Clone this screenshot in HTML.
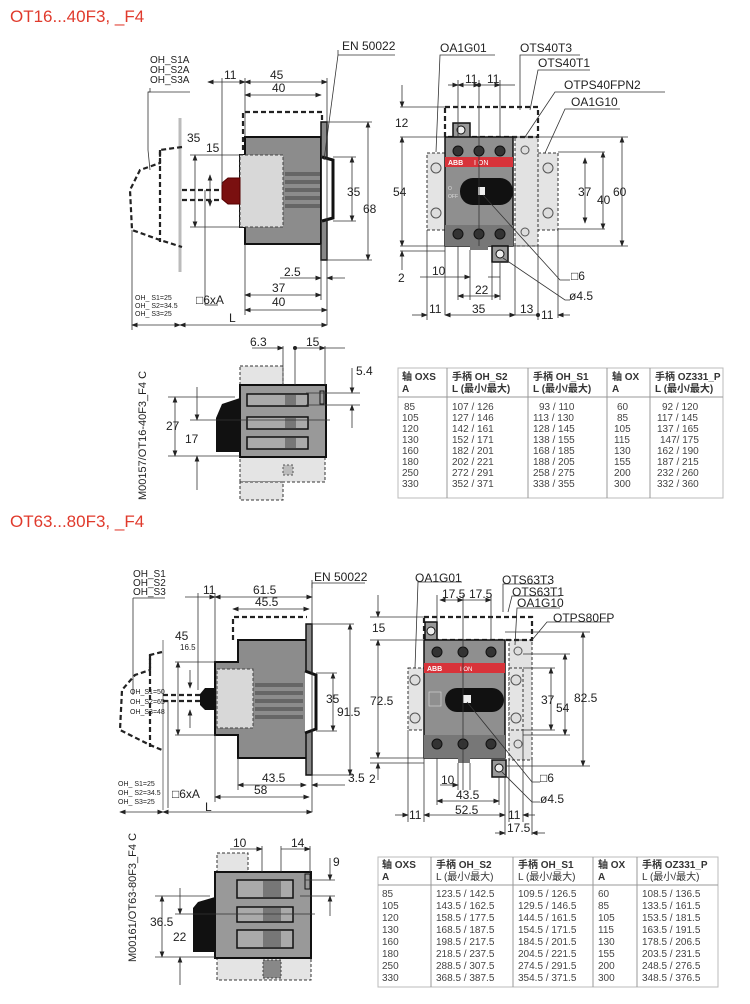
<!DOCTYPE html>
<html><head><meta charset="utf-8"><style>
html,body{margin:0;padding:0;background:#fff;}
svg{display:block;}
text{font-family:"Liberation Sans","Noto Sans CJK SC",sans-serif;fill:#222;}
.d{font-size:12px;}
.s{font-size:10px;}
.t{font-size:7px;}
.ln{stroke:#333;stroke-width:0.8;fill:none;}
.ds{stroke:#222;stroke-width:2.2;fill:none;stroke-dasharray:5,3;}
.dt{stroke:#333;stroke-width:1;fill:#e4e4e4;stroke-dasharray:3,2;}
</style></head><body>
<svg width="750" height="1004" viewBox="0 0 750 1004" xmlns="http://www.w3.org/2000/svg">
<defs>
<marker id="a" markerWidth="8" markerHeight="6" refX="7" refY="3" orient="auto-start-reverse"><path d="M0,0 L8,3 L0,6z" fill="#222"/></marker>
</defs>
<rect width="750" height="1004" fill="#fff"/>

<!-- ===== TOP SECTION ===== -->
<text x="10" y="22" style="font-size:17px;fill:#e03a2c">OT16...40F3, _F4</text>

<!-- side view 1 -->
<g>
<line x1="180" y1="118" x2="180" y2="272" stroke="#bbb" stroke-width="3"/>
<path d="M182,147 L160,150 L160,163 L140,170 L130,190 L132,230 L160,240 L182,247" class="ds" stroke-width="1.5"/>
<line x1="160" y1="150" x2="160" y2="242" class="ds" stroke-width="1.5"/>
<path d="M243,150 L243,112 L322,112 L322,120" class="ds"/>
<path d="M245,137 L321,137 L321,244 L245,244 L245,227 L240,227 L240,155 L245,155z" fill="#8c8c8c" stroke="#111" stroke-width="2"/>
<rect x="240" y="155" width="43" height="72" fill="#d8d8d8" stroke="#444" stroke-dasharray="3,2"/>
<g fill="#666"><rect x="285" y="172" width="35" height="4"/><rect x="285" y="180" width="35" height="4"/><rect x="285" y="188" width="35" height="4"/><rect x="285" y="196" width="35" height="4"/><rect x="285" y="204" width="35" height="4"/></g>
<rect x="321" y="122" width="6" height="138" fill="#888" stroke="#111" stroke-width="1.5"/>
<path d="M322,157 L333,160 L333,218 L322,221" fill="#fff" stroke="#111" stroke-width="3"/>
<path d="M222,183 L228,178 L240,178 L240,204 L228,204 L222,199z" fill="#7a1010" stroke="#500" />
<line x1="182" y1="190" x2="222" y2="190" class="ds" stroke-width="1.5"/>
<line x1="182" y1="200" x2="222" y2="200" class="ds" stroke-width="1.5"/>
<line x1="205" y1="190" x2="205" y2="305" class="ln"/><line x1="205" y1="305" x2="218" y2="305" class="ln"/>
<!-- dims -->
<line x1="208" y1="82" x2="245" y2="82" class="ln" marker-start="url(#a)" marker-end="url(#a)"/>
<line x1="245" y1="82" x2="327" y2="82" class="ln" marker-start="url(#a)" marker-end="url(#a)"/>
<line x1="245" y1="95" x2="321" y2="95" class="ln" marker-start="url(#a)" marker-end="url(#a)"/>
<line x1="222" y1="78" x2="222" y2="185" class="ln"/><line x1="245" y1="78" x2="245" y2="137" class="ln"/><line x1="327" y1="78" x2="327" y2="325" class="ln"/>
<line x1="195" y1="155" x2="195" y2="227" class="ln" marker-start="url(#a)" marker-end="url(#a)"/>
<line x1="210" y1="175" x2="210" y2="206" class="ln" marker-start="url(#a)" marker-end="url(#a)"/>
<line x1="190" y1="155" x2="240" y2="155" class="ln"/><line x1="190" y1="227" x2="240" y2="227" class="ln"/>
<line x1="352" y1="157" x2="352" y2="221" class="ln" marker-start="url(#a)" marker-end="url(#a)"/>
<line x1="368" y1="122" x2="368" y2="260" class="ln" marker-start="url(#a)" marker-end="url(#a)"/>
<line x1="327" y1="122" x2="372" y2="122" class="ln"/><line x1="327" y1="260" x2="372" y2="260" class="ln"/>
<line x1="333" y1="157" x2="356" y2="157" class="ln"/><line x1="333" y1="221" x2="356" y2="221" class="ln"/>
<line x1="280" y1="278" x2="321" y2="278" class="ln" marker-end="url(#a)"/><line x1="327" y1="278" x2="345" y2="278" class="ln" marker-start="url(#a)"/>
<line x1="245" y1="295" x2="321" y2="295" class="ln" marker-start="url(#a)" marker-end="url(#a)"/>
<line x1="245" y1="310" x2="327" y2="310" class="ln" marker-start="url(#a)" marker-end="url(#a)"/>
<line x1="245" y1="244" x2="245" y2="315" class="ln"/><line x1="321" y1="244" x2="321" y2="300" class="ln"/>
<line x1="132" y1="325" x2="180" y2="325" class="ln" marker-start="url(#a)" marker-end="url(#a)"/>
<line x1="180" y1="325" x2="327" y2="325" class="ln" marker-start="url(#a)" marker-end="url(#a)"/>
<line x1="132" y1="230" x2="132" y2="330" class="ln"/>
<path d="M150,88 L150,92 L148,92 L148,150 L150,170" class="ln"/>
<line x1="148" y1="92" x2="190" y2="92" class="ln"/>
<path d="M338,50 L338,55 L324,160" class="ln"/><line x1="338" y1="55" x2="395" y2="55" class="ln"/>
<text x="150" y="63" class="s">OH_S1A</text><text x="150" y="73" class="s">OH_S2A</text><text x="150" y="83" class="s">OH_S3A</text>
<text x="342" y="50" class="d">EN 50022</text>
<text x="224" y="79" class="d">11</text><text x="270" y="79" class="d">45</text><text x="272" y="92" class="d">40</text>
<text x="187" y="142" class="d">35</text><text x="206" y="152" class="d">15</text>
<text x="347" y="196" class="d">35</text><text x="363" y="213" class="d">68</text>
<text x="284" y="276" class="d">2.5</text><text x="272" y="292" class="d">37</text><text x="272" y="306" class="d">40</text>
<text x="196" y="304" class="d">□6xA</text>
<text x="135" y="300" class="t">OH_ S1=25</text><text x="135" y="308" class="t">OH_ S2=34.5</text><text x="135" y="316" class="t">OH_ S3=25</text>
<text x="229" y="322" class="d">L</text>
</g>

<!-- front view 1 -->
<g>
<rect x="427" y="153" width="18" height="77" class="dt"/>
<rect x="515" y="137" width="23" height="109" fill="#e2e2e2" stroke="#333" stroke-dasharray="3,2"/>
<rect x="538" y="153" width="20" height="77" class="dt"/>
<rect x="445" y="107" width="93" height="30" fill="none" stroke="#222" stroke-width="2.2" stroke-dasharray="5,3"/>
<rect x="453" y="123" width="17" height="15" fill="#999" stroke="#111" stroke-width="1.5"/><circle cx="461" cy="130" r="4" fill="#eee" stroke="#111"/>
<rect x="445" y="137" width="68" height="109" fill="#8f8f8f" stroke="#111" stroke-width="1.5"/>
<rect x="445" y="225" width="68" height="21" fill="#777"/>
<rect x="445" y="157" width="68" height="10" fill="#d8333a"/>
<text x="448" y="165" style="font-size:7px;fill:#fff;font-weight:bold">ABB</text><text x="474" y="165" style="font-size:7px;fill:#fff">I  ON</text>
<rect x="460" y="178" width="53" height="27" rx="13" fill="#111"/>
<rect x="478" y="187" width="7" height="8" fill="#eee"/>
<text x="448" y="190" style="font-size:5px;fill:#ddd">O</text><text x="448" y="198" style="font-size:5px;fill:#ddd">OFF</text>
<g fill="#333" stroke="#111"><circle cx="458" cy="151" r="5"/><circle cx="479" cy="151" r="5"/><circle cx="500" cy="151" r="5"/><circle cx="458" cy="234" r="5"/><circle cx="479" cy="234" r="5"/><circle cx="500" cy="234" r="5"/></g>
<rect x="492" y="246" width="16" height="16" fill="#999" stroke="#111" stroke-width="1.5"/><circle cx="500" cy="254" r="4" fill="#eee" stroke="#111"/>
<rect x="470" y="246" width="18" height="4" fill="#777"/>
<g fill="#ddd" stroke="#555"><circle cx="436" cy="168" r="5"/><circle cx="436" cy="213" r="5"/><circle cx="548" cy="168" r="5"/><circle cx="548" cy="213" r="5"/><circle cx="525" cy="150" r="4"/><circle cx="525" cy="232" r="4"/></g>
<line x1="479" y1="80" x2="479" y2="246" class="ln"/><line x1="458" y1="80" x2="458" y2="137" class="ln"/><line x1="500" y1="80" x2="500" y2="137" class="ln"/>
<line x1="448" y1="85" x2="458" y2="85" class="ln" marker-end="url(#a)"/><line x1="458" y1="85" x2="479" y2="85" class="ln" marker-start="url(#a)" marker-end="url(#a)"/><line x1="479" y1="85" x2="500" y2="85" class="ln" marker-end="url(#a)"/><line x1="500" y1="85" x2="515" y2="85" class="ln"/>
<line x1="400" y1="107" x2="445" y2="107" class="ln"/><line x1="400" y1="137" x2="445" y2="137" class="ln"/><line x1="400" y1="246" x2="445" y2="246" class="ln"/><line x1="400" y1="251" x2="445" y2="251" class="ln"/>
<line x1="402" y1="85" x2="402" y2="107" class="ln" marker-end="url(#a)"/><line x1="402" y1="137" x2="402" y2="246" class="ln" marker-start="url(#a)" marker-end="url(#a)"/><line x1="402" y1="251" x2="402" y2="270" class="ln" marker-start="url(#a)"/>
<line x1="513" y1="137" x2="628" y2="137" class="ln"/><line x1="513" y1="246" x2="628" y2="246" class="ln"/><line x1="558" y1="152" x2="605" y2="152" class="ln"/><line x1="558" y1="229" x2="605" y2="229" class="ln"/>
<line x1="585" y1="158" x2="585" y2="223" class="ln" marker-start="url(#a)" marker-end="url(#a)"/><line x1="603" y1="152" x2="603" y2="229" class="ln" marker-start="url(#a)" marker-end="url(#a)"/><line x1="622" y1="137" x2="622" y2="246" class="ln" marker-start="url(#a)" marker-end="url(#a)"/>
<line x1="427" y1="230" x2="427" y2="320" class="ln"/><line x1="445" y1="246" x2="445" y2="315" class="ln"/><line x1="538" y1="246" x2="538" y2="320" class="ln"/><line x1="558" y1="230" x2="558" y2="318" class="ln"/><line x1="515" y1="246" x2="515" y2="315" class="ln"/>
<line x1="470" y1="250" x2="470" y2="300" class="ln"/><line x1="492" y1="262" x2="492" y2="300" class="ln"/>
<line x1="420" y1="277" x2="470" y2="277" class="ln" marker-end="url(#a)"/><line x1="488" y1="277" x2="500" y2="277" class="ln"/>
<line x1="458" y1="296" x2="500" y2="296" class="ln" marker-start="url(#a)" marker-end="url(#a)"/><line x1="458" y1="246" x2="458" y2="300" class="ln"/><line x1="500" y1="262" x2="500" y2="300" class="ln"/>
<line x1="412" y1="315" x2="427" y2="315" class="ln" marker-end="url(#a)"/><line x1="445" y1="315" x2="515" y2="315" class="ln" marker-start="url(#a)" marker-end="url(#a)"/><line x1="515" y1="315" x2="538" y2="315" class="ln"/><line x1="558" y1="315" x2="570" y2="315" class="ln" marker-start="url(#a)"/>
<circle cx="538" cy="315" r="2" fill="#222"/><circle cx="479" cy="85" r="2" fill="#222"/>
<path d="M436,152 L440,55 L495,55" class="ln"/><path d="M520,110 L520,55 L580,55" class="ln"/><path d="M530,110 L538,70 L590,70" class="ln"/><path d="M525,137 L555,92 L665,92" class="ln"/><path d="M545,153 L565,109 L620,109" class="ln"/>
<path d="M483,195 L560,280 L570,280" class="ln"/><path d="M503,258 L565,300 L570,300" class="ln"/>
<text x="440" y="52" class="d">OA1G01</text><text x="520" y="52" class="d">OTS40T3</text><text x="538" y="67" class="d">OTS40T1</text><text x="564" y="89" class="d">OTPS40FPN2</text><text x="571" y="106" class="d">OA1G10</text>
<text x="465" y="83" class="d">11</text><text x="487" y="83" class="d">11</text>
<text x="395" y="127" class="d">12</text><text x="393" y="196" class="d">54</text><text x="398" y="282" class="d">2</text>
<text x="432" y="275" class="d">10</text><text x="475" y="294" class="d">22</text>
<text x="429" y="313" class="d">11</text><text x="472" y="313" class="d">35</text><text x="520" y="313" class="d">13</text><text x="541" y="319" class="d">11</text>
<text x="578" y="196" class="d">37</text><text x="597" y="204" class="d">40</text><text x="613" y="196" class="d">60</text>
<text x="571" y="280" class="d">□6</text><text x="569" y="300" class="d">ø4.5</text>
</g>

<!-- small view 1 -->
<g>
<rect x="240" y="366" width="43" height="19" class="dt"/>
<rect x="240" y="457" width="85" height="25" class="dt"/><rect x="240" y="482" width="43" height="18" class="dt"/>
<rect x="283" y="465" width="10" height="10" fill="#bbb" stroke="#555" stroke-dasharray="2,2"/>
<path d="M240,398 L222,404 L216,418 L216,452 L240,452z" fill="#111"/>
<rect x="240" y="385" width="86" height="72" fill="#999" stroke="#111" stroke-width="2"/>
<g fill="#aaa" stroke="#111" stroke-width="1.5"><rect x="247" y="394" width="61" height="12"/><rect x="247" y="417" width="61" height="12"/><rect x="247" y="437" width="61" height="12"/></g>
<g fill="#777"><rect x="285" y="395" width="11" height="10"/><rect x="285" y="418" width="11" height="10"/><rect x="285" y="438" width="11" height="10"/></g>
<rect x="320" y="391" width="4" height="13" fill="none" stroke="#111"/>
<line x1="283" y1="346" x2="283" y2="385" class="ln"/><line x1="295" y1="346" x2="295" y2="385" class="ln"/><line x1="325" y1="346" x2="325" y2="385" class="ln"/>
<line x1="252" y1="348" x2="283" y2="348" class="ln" marker-end="url(#a)"/><line x1="295" y1="348" x2="325" y2="348" class="ln" marker-end="url(#a)"/><line x1="325" y1="348" x2="345" y2="348" class="ln"/><circle cx="295" cy="348" r="2" fill="#222"/>
<line x1="306" y1="393" x2="360" y2="393" class="ln"/><line x1="306" y1="405" x2="360" y2="405" class="ln"/>
<line x1="352" y1="368" x2="352" y2="393" class="ln" marker-end="url(#a)"/><line x1="352" y1="405" x2="352" y2="428" class="ln" marker-start="url(#a)"/>
<line x1="168" y1="397" x2="235" y2="397" class="ln"/><line x1="168" y1="456" x2="240" y2="456" class="ln"/><line x1="190" y1="420" x2="330" y2="420" class="ln"/>
<line x1="175" y1="397" x2="175" y2="456" class="ln" marker-start="url(#a)" marker-end="url(#a)"/>
<line x1="197" y1="387" x2="197" y2="420" class="ln" marker-end="url(#a)"/><line x1="197" y1="456" x2="197" y2="490" class="ln" marker-start="url(#a)"/>
<text x="306" y="346" class="d">15</text><text x="250" y="346" class="d">6.3</text><text x="356" y="375" class="d">5.4</text>
<text x="166" y="430" class="d">27</text><text x="185" y="443" class="d">17</text>
<text transform="translate(146,500) rotate(-90)" class="s" style="font-size:11px">M00157/OT16-40F3_F4  C</text>
</g>

<!-- table 1 -->
<g>
<rect x="398" y="368" width="325" height="130" fill="#fff" stroke="#bbb"/>
<line x1="398" y1="397" x2="723" y2="397" stroke="#999"/>
<g stroke="#999"><line x1="447" y1="368" x2="447" y2="498"/><line x1="528" y1="368" x2="528" y2="498"/><line x1="607" y1="368" x2="607" y2="498"/><line x1="650" y1="368" x2="650" y2="498"/></g>
<g style="font-size:10px;font-weight:bold">
<text x="402" y="380" style="font-weight:bold;fill:#333">轴 OXS</text><text x="402" y="392" style="font-weight:bold;fill:#333">A</text>
<text x="452" y="380" style="font-weight:bold;fill:#333">手柄 OH_S2</text><text x="452" y="392" style="fill:#333">L (最小/最大)</text>
<text x="533" y="380" style="font-weight:bold;fill:#333">手柄 OH_S1</text><text x="533" y="392" style="fill:#333">L (最小/最大)</text>
<text x="612" y="380" style="font-weight:bold;fill:#333">轴 OX</text><text x="612" y="392" style="font-weight:bold;fill:#333">A</text>
<text x="655" y="380" style="font-weight:bold;fill:#333">手柄 OZ331_P</text><text x="655" y="392" style="fill:#333">L (最小/最大)</text>
</g>
<g style="font-size:10px">
<text x="404" y="410" style="fill:#444;font-size:10px">  85</text><text x="402" y="421" style="fill:#444;font-size:10px">105</text><text x="402" y="432" style="fill:#444;font-size:10px">120</text><text x="402" y="443" style="fill:#444;font-size:10px">130</text><text x="402" y="454" style="fill:#444;font-size:10px">160</text><text x="402" y="465" style="fill:#444;font-size:10px">180</text><text x="402" y="476" style="fill:#444;font-size:10px">250</text><text x="402" y="487" style="fill:#444;font-size:10px">330</text>
<text x="452" y="410" style="fill:#444;font-size:10px">107 / 126</text><text x="452" y="421" style="fill:#444;font-size:10px">127 / 146</text><text x="452" y="432" style="fill:#444;font-size:10px">142 / 161</text><text x="452" y="443" style="fill:#444;font-size:10px">152 / 171</text><text x="452" y="454" style="fill:#444;font-size:10px">182 / 201</text><text x="452" y="465" style="fill:#444;font-size:10px">202 / 221</text><text x="452" y="476" style="fill:#444;font-size:10px">272 / 291</text><text x="452" y="487" style="fill:#444;font-size:10px">352 / 371</text>
<text x="539" y="410" style="fill:#444;font-size:10px">93 / 110</text><text x="533" y="421" style="fill:#444;font-size:10px">113 / 130</text><text x="533" y="432" style="fill:#444;font-size:10px">128 / 145</text><text x="533" y="443" style="fill:#444;font-size:10px">138 / 155</text><text x="533" y="454" style="fill:#444;font-size:10px">168 / 185</text><text x="533" y="465" style="fill:#444;font-size:10px">188 / 205</text><text x="533" y="476" style="fill:#444;font-size:10px">258 / 275</text><text x="533" y="487" style="fill:#444;font-size:10px">338 / 355</text>
<text x="617" y="410" style="fill:#444;font-size:10px">60</text><text x="617" y="421" style="fill:#444;font-size:10px">85</text><text x="614" y="432" style="fill:#444;font-size:10px">105</text><text x="614" y="443" style="fill:#444;font-size:10px">115</text><text x="614" y="454" style="fill:#444;font-size:10px">130</text><text x="614" y="465" style="fill:#444;font-size:10px">155</text><text x="614" y="476" style="fill:#444;font-size:10px">200</text><text x="614" y="487" style="fill:#444;font-size:10px">300</text>
<text x="662" y="410" style="fill:#444;font-size:10px">92 / 120</text><text x="657" y="421" style="fill:#444;font-size:10px">117 / 145</text><text x="657" y="432" style="fill:#444;font-size:10px">137 / 165</text><text x="660" y="443" style="fill:#444;font-size:10px">147/ 175</text><text x="657" y="454" style="fill:#444;font-size:10px">162 / 190</text><text x="657" y="465" style="fill:#444;font-size:10px">187 / 215</text><text x="657" y="476" style="fill:#444;font-size:10px">232 / 260</text><text x="657" y="487" style="fill:#444;font-size:10px">332 / 360</text>
</g>
</g>

<!-- ===== BOTTOM SECTION ===== -->
<text x="10" y="527" style="font-size:17px;fill:#e03a2c">OT63...80F3, _F4</text>

<!-- side view 2 -->
<g>
<line x1="163" y1="640" x2="163" y2="810" stroke="#bbb" stroke-width="2"/>
<path d="M162,652 L150,655 L150,670 L135,675 L122,690 L120,730 L150,745 L162,750" class="ds" stroke-width="1.5"/>
<line x1="150" y1="655" x2="150" y2="747" class="ds" stroke-width="1.5"/>
<path d="M233,640 L233,617 L307,617" class="ds"/>
<path d="M238,640 L309,640 L309,758 L238,758 L238,735 L215,735 L215,662 L238,662z" fill="#8c8c8c" stroke="#111" stroke-width="2"/>
<rect x="217" y="669" width="36" height="59" fill="#d8d8d8" stroke="#444" stroke-dasharray="3,2"/>
<g fill="#666"><rect x="255" y="683" width="48" height="4"/><rect x="255" y="691" width="48" height="4"/><rect x="255" y="699" width="48" height="4"/><rect x="255" y="707" width="48" height="4"/><rect x="255" y="715" width="48" height="4"/></g>
<rect x="306" y="624" width="6" height="151" fill="#888" stroke="#111" stroke-width="1.5"/>
<path d="M305,671 L316,675 L316,729 L305,733" fill="#fff" stroke="#111" stroke-width="3"/>
<path d="M200,694 L205,688 L215,688 L215,710 L205,710 L200,705z" fill="#111"/>
<line x1="163" y1="695" x2="200" y2="695" class="ds" stroke-width="1.5"/><line x1="163" y1="701" x2="200" y2="701" class="ds" stroke-width="1.5"/>
<line x1="168" y1="700" x2="168" y2="808" class="ln"/>
<line x1="185" y1="597" x2="215" y2="597" class="ln" marker-end="url(#a)"/><line x1="215" y1="597" x2="312" y2="597" class="ln" marker-start="url(#a)" marker-end="url(#a)"/>
<line x1="233" y1="609" x2="309" y2="609" class="ln" marker-start="url(#a)" marker-end="url(#a)"/>
<line x1="198" y1="593" x2="198" y2="690" class="ln"/><line x1="215" y1="593" x2="215" y2="662" class="ln"/><line x1="312" y1="580" x2="312" y2="812" class="ln"/>
<line x1="178" y1="662" x2="178" y2="735" class="ln" marker-start="url(#a)" marker-end="url(#a)"/>
<line x1="190" y1="670" x2="190" y2="688" class="ln" marker-end="url(#a)"/><line x1="190" y1="710" x2="190" y2="728" class="ln" marker-start="url(#a)"/>
<line x1="175" y1="662" x2="215" y2="662" class="ln"/><line x1="175" y1="735" x2="215" y2="735" class="ln"/>
<line x1="333" y1="673" x2="333" y2="731" class="ln" marker-start="url(#a)" marker-end="url(#a)"/>
<line x1="350" y1="624" x2="350" y2="775" class="ln" marker-start="url(#a)" marker-end="url(#a)"/>
<line x1="312" y1="624" x2="354" y2="624" class="ln"/><line x1="312" y1="775" x2="354" y2="775" class="ln"/>
<line x1="316" y1="673" x2="337" y2="673" class="ln"/><line x1="316" y1="731" x2="337" y2="731" class="ln"/>
<line x1="238" y1="785" x2="306" y2="785" class="ln" marker-start="url(#a)" marker-end="url(#a)"/><line x1="312" y1="785" x2="345" y2="785" class="ln" marker-start="url(#a)"/>
<line x1="215" y1="797" x2="309" y2="797" class="ln" marker-start="url(#a)" marker-end="url(#a)"/>
<line x1="120" y1="812" x2="163" y2="812" class="ln" marker-start="url(#a)" marker-end="url(#a)"/><line x1="163" y1="812" x2="312" y2="812" class="ln" marker-start="url(#a)" marker-end="url(#a)"/>
<line x1="238" y1="758" x2="238" y2="790" class="ln"/><line x1="215" y1="735" x2="215" y2="802" class="ln"/>
<path d="M133,598 L133,680 L133,695" class="ln"/><line x1="133" y1="598" x2="165" y2="598" class="ln"/>
<path d="M312,583 L312,588" class="ln"/><line x1="312" y1="583" x2="365" y2="583" class="ln"/>
<text x="133" y="577" class="s">OH_S1</text><text x="133" y="586" class="s">OH_S2</text><text x="133" y="595" class="s">OH_S3</text>
<text x="314" y="581" class="d">EN 50022</text>
<text x="203" y="594" class="d">11</text><text x="253" y="594" class="d">61.5</text><text x="255" y="606" class="d">45.5</text>
<text x="175" y="640" class="d">45</text><text x="180" y="650" class="t" style="font-size:8px">16.5</text>
<text x="326" y="703" class="d">35</text><text x="337" y="716" class="d">91.5</text>
<text x="262" y="782" class="d">43.5</text><text x="348" y="782" class="d">3.5</text><text x="254" y="794" class="d">58</text>
<text x="130" y="694" class="t">OH_S1=50</text><text x="130" y="704" class="t">OH_S2=65</text><text x="130" y="714" class="t">OH_S3=48</text>
<text x="118" y="786" class="t">OH_ S1=25</text><text x="118" y="795" class="t">OH_ S2=34.5</text><text x="118" y="804" class="t">OH_ S3=25</text>
<text x="172" y="798" class="d">□6xA</text><text x="205" y="811" class="d">L</text>
</g>

<!-- front view 2 -->
<g>
<rect x="408" y="668" width="16" height="62" class="dt"/>
<rect x="509" y="640" width="23" height="120" fill="#e2e2e2" stroke="#333" stroke-dasharray="3,2"/>
<rect x="509" y="668" width="14" height="62" class="dt"/>
<rect x="424" y="617" width="108" height="23" fill="none" stroke="#222" stroke-width="2.2" stroke-dasharray="5,3"/>
<rect x="425" y="622" width="12" height="18" fill="#999" stroke="#111" stroke-width="1.5"/><circle cx="431" cy="631" r="4" fill="#eee" stroke="#111"/>
<rect x="424" y="640" width="81" height="118" fill="#8f8f8f" stroke="#111" stroke-width="1.5"/>
<rect x="424" y="735" width="81" height="23" fill="#777"/>
<rect x="424" y="663" width="81" height="10" fill="#d8333a"/>
<text x="427" y="671" style="font-size:7px;fill:#fff;font-weight:bold">ABB</text><text x="460" y="671" style="font-size:6px;fill:#fff">I  ON</text>
<rect x="445" y="688" width="59" height="24" rx="12" fill="#111"/>
<rect x="463" y="695" width="8" height="8" fill="#eee"/>
<rect x="429" y="692" width="12" height="14" fill="none" stroke="#ddd" stroke-width="0.6"/>
<g fill="#333" stroke="#111"><circle cx="437" cy="652" r="5"/><circle cx="463" cy="652" r="5"/><circle cx="491" cy="652" r="5"/><circle cx="437" cy="744" r="5"/><circle cx="463" cy="744" r="5"/><circle cx="491" cy="744" r="5"/></g>
<rect x="492" y="760" width="14" height="17" fill="#999" stroke="#111" stroke-width="1.5"/><circle cx="499" cy="768" r="4" fill="#eee" stroke="#111"/>
<rect x="458" y="758" width="12" height="5" fill="#777"/>
<g fill="#ddd" stroke="#555"><circle cx="415" cy="680" r="5"/><circle cx="415" cy="718" r="5"/><circle cx="516" cy="680" r="5"/><circle cx="516" cy="718" r="5"/><circle cx="518" cy="651" r="4"/><circle cx="518" cy="744" r="4"/></g>
<line x1="463" y1="595" x2="463" y2="790" class="ln"/><line x1="437" y1="595" x2="437" y2="622" class="ln"/><line x1="491" y1="595" x2="491" y2="640" class="ln"/>
<line x1="440" y1="600" x2="463" y2="600" class="ln" marker-start="url(#a)" marker-end="url(#a)"/><line x1="463" y1="600" x2="491" y2="600" class="ln" marker-end="url(#a)"/>
<line x1="370" y1="617" x2="424" y2="617" class="ln"/><line x1="370" y1="640" x2="424" y2="640" class="ln"/><line x1="370" y1="758" x2="424" y2="758" class="ln"/><line x1="370" y1="763" x2="424" y2="763" class="ln"/>
<line x1="378" y1="595" x2="378" y2="617" class="ln" marker-end="url(#a)"/><line x1="378" y1="640" x2="378" y2="758" class="ln" marker-start="url(#a)" marker-end="url(#a)"/><line x1="378" y1="763" x2="378" y2="780" class="ln" marker-start="url(#a)"/>
<line x1="505" y1="632" x2="590" y2="632" class="ln"/><line x1="505" y1="766" x2="590" y2="766" class="ln"/><line x1="523" y1="654" x2="570" y2="654" class="ln"/><line x1="523" y1="735" x2="570" y2="735" class="ln"/><line x1="523" y1="668" x2="555" y2="668" class="ln"/><line x1="523" y1="730" x2="555" y2="730" class="ln"/>
<line x1="551" y1="668" x2="551" y2="730" class="ln" marker-start="url(#a)" marker-end="url(#a)"/><line x1="565" y1="654" x2="565" y2="735" class="ln" marker-start="url(#a)" marker-end="url(#a)"/><line x1="583" y1="632" x2="583" y2="766" class="ln" marker-start="url(#a)" marker-end="url(#a)"/>
<line x1="408" y1="730" x2="408" y2="822" class="ln"/><line x1="424" y1="758" x2="424" y2="822" class="ln"/><line x1="505" y1="777" x2="505" y2="835" class="ln"/><line x1="509" y1="760" x2="509" y2="822" class="ln"/><line x1="532" y1="760" x2="532" y2="835" class="ln"/><line x1="523" y1="730" x2="523" y2="822" class="ln"/>
<line x1="458" y1="763" x2="458" y2="790" class="ln"/><line x1="470" y1="763" x2="470" y2="790" class="ln"/><line x1="499" y1="777" x2="499" y2="805" class="ln"/>
<line x1="440" y1="785" x2="458" y2="785" class="ln" marker-end="url(#a)"/>
<line x1="437" y1="801" x2="499" y2="801" class="ln" marker-start="url(#a)" marker-end="url(#a)"/><line x1="437" y1="758" x2="437" y2="805" class="ln"/>
<line x1="424" y1="815" x2="505" y2="815" class="ln" marker-start="url(#a)" marker-end="url(#a)"/>
<line x1="395" y1="815" x2="408" y2="815" class="ln" marker-end="url(#a)"/><line x1="523" y1="815" x2="535" y2="815" class="ln" marker-start="url(#a)"/>
<line x1="495" y1="833" x2="505" y2="833" class="ln" marker-end="url(#a)"/><line x1="532" y1="833" x2="545" y2="833" class="ln" marker-start="url(#a)"/>
<path d="M415,668 L418,582 L462,582" class="ln"/><path d="M503,612 L503,584 L550,584" class="ln"/><path d="M508,612 L512,596 L560,596" class="ln"/><path d="M515,645 L517,608 L560,608" class="ln"/><path d="M532,640 L547,622 L610,622" class="ln"/>
<path d="M467,702 L532,782 L540,782" class="ln"/><path d="M502,772 L532,802 L540,802" class="ln"/>
<text x="415" y="582" class="d">OA1G01</text><text x="502" y="584" class="d">OTS63T3</text><text x="512" y="596" class="d">OTS63T1</text><text x="517" y="607" class="d">OA1G10</text><text x="553" y="622" class="d">OTPS80FP</text>
<text x="442" y="598" class="d">17.5</text><text x="469" y="598" class="d">17.5</text>
<text x="372" y="632" class="d">15</text><text x="370" y="705" class="d">72.5</text><text x="369" y="783" class="d">2</text>
<text x="541" y="704" class="d">37</text><text x="556" y="712" class="d">54</text><text x="574" y="702" class="d">82.5</text>
<text x="441" y="784" class="d">10</text><text x="456" y="799" class="d">43.5</text><text x="455" y="814" class="d">52.5</text>
<text x="409" y="819" class="d">11</text><text x="508" y="819" class="d">11</text><text x="507" y="832" class="d">17.5</text>
<text x="540" y="782" class="d">□6</text><text x="540" y="803" class="d">ø4.5</text>
</g>

<!-- small view 2 -->
<g>
<rect x="217" y="853" width="31" height="19" class="dt"/>
<rect x="217" y="958" width="94" height="22" class="dt"/>
<rect x="263" y="960" width="18" height="18" fill="#888" stroke="#444" stroke-dasharray="2,2"/>
<path d="M215,897 L198,902 L193,908 L193,952 L215,952z" fill="#111"/>
<rect x="215" y="872" width="96" height="86" fill="#999" stroke="#111" stroke-width="2"/>
<g fill="#aaa" stroke="#111" stroke-width="1.5"><rect x="237" y="880" width="56" height="18"/><rect x="237" y="907" width="56" height="15"/><rect x="237" y="930" width="56" height="18"/></g>
<g fill="#777"><rect x="263" y="881" width="18" height="16"/><rect x="263" y="908" width="18" height="13"/><rect x="263" y="931" width="18" height="16"/></g>
<rect x="305" y="874" width="5" height="15" fill="none" stroke="#111"/>
<line x1="262" y1="846" x2="262" y2="872" class="ln"/><line x1="281" y1="846" x2="281" y2="872" class="ln"/><line x1="310" y1="846" x2="310" y2="872" class="ln"/>
<line x1="230" y1="849" x2="262" y2="849" class="ln" marker-end="url(#a)"/><line x1="281" y1="849" x2="310" y2="849" class="ln" marker-end="url(#a)"/>
<line x1="305" y1="880" x2="335" y2="880" class="ln"/><line x1="300" y1="896" x2="335" y2="896" class="ln"/>
<line x1="330" y1="858" x2="330" y2="880" class="ln" marker-end="url(#a)"/><line x1="330" y1="896" x2="330" y2="916" class="ln" marker-start="url(#a)"/>
<line x1="155" y1="896" x2="210" y2="896" class="ln"/><line x1="155" y1="957" x2="215" y2="957" class="ln"/><line x1="175" y1="914" x2="315" y2="914" class="ln"/>
<line x1="162" y1="896" x2="162" y2="957" class="ln" marker-start="url(#a)" marker-end="url(#a)"/>
<line x1="180" y1="888" x2="180" y2="914" class="ln" marker-end="url(#a)"/><line x1="180" y1="957" x2="180" y2="985" class="ln" marker-start="url(#a)"/>
<text x="233" y="847" class="d">10</text><text x="291" y="847" class="d">14</text><text x="333" y="866" class="d">9</text>
<text x="150" y="926" class="d">36.5</text><text x="173" y="941" class="d">22</text>
<text transform="translate(136,962) rotate(-90)" class="s" style="font-size:11px">M00161/OT63-80F3_F4  C</text>
</g>

<!-- table 2 -->
<g>
<rect x="378" y="857" width="340" height="130" fill="#fff" stroke="#bbb"/>
<line x1="378" y1="885" x2="718" y2="885" stroke="#999"/>
<g stroke="#999"><line x1="431" y1="857" x2="431" y2="987"/><line x1="513" y1="857" x2="513" y2="987"/><line x1="593" y1="857" x2="593" y2="987"/><line x1="637" y1="857" x2="637" y2="987"/></g>
<g style="font-size:10px">
<text x="382" y="868" style="font-weight:bold;fill:#333">轴 OXS</text><text x="382" y="880" style="font-weight:bold;fill:#333">A</text>
<text x="436" y="868" style="font-weight:bold;fill:#333">手柄 OH_S2</text><text x="436" y="880" style="fill:#333">L (最小/最大)</text>
<text x="518" y="868" style="font-weight:bold;fill:#333">手柄 OH_S1</text><text x="518" y="880" style="fill:#333">L (最小/最大)</text>
<text x="598" y="868" style="font-weight:bold;fill:#333">轴 OX</text><text x="598" y="880" style="font-weight:bold;fill:#333">A</text>
<text x="642" y="868" style="font-weight:bold;fill:#333">手柄 OZ331_P</text><text x="642" y="880" style="fill:#333">L (最小/最大)</text>
</g>
<g style="font-size:10px">
<text x="382" y="897" style="fill:#444">85</text><text x="382" y="909" style="fill:#444">105</text><text x="382" y="921" style="fill:#444">120</text><text x="382" y="933" style="fill:#444">130</text><text x="382" y="945" style="fill:#444">160</text><text x="382" y="957" style="fill:#444">180</text><text x="382" y="969" style="fill:#444">250</text><text x="382" y="981" style="fill:#444">330</text>
<text x="436" y="897" style="fill:#444">123.5 / 142.5</text><text x="436" y="909" style="fill:#444">143.5 / 162.5</text><text x="436" y="921" style="fill:#444">158.5 / 177.5</text><text x="436" y="933" style="fill:#444">168.5 / 187.5</text><text x="436" y="945" style="fill:#444">198.5 / 217.5</text><text x="436" y="957" style="fill:#444">218.5 / 237.5</text><text x="436" y="969" style="fill:#444">288.5 / 307.5</text><text x="436" y="981" style="fill:#444">368.5 / 387.5</text>
<text x="518" y="897" style="fill:#444">109.5 / 126.5</text><text x="518" y="909" style="fill:#444">129.5 / 146.5</text><text x="518" y="921" style="fill:#444">144.5 / 161.5</text><text x="518" y="933" style="fill:#444">154.5 / 171.5</text><text x="518" y="945" style="fill:#444">184.5 / 201.5</text><text x="518" y="957" style="fill:#444">204.5 / 221.5</text><text x="518" y="969" style="fill:#444">274.5 / 291.5</text><text x="518" y="981" style="fill:#444">354.5 / 371.5</text>
<text x="598" y="897" style="fill:#444">60</text><text x="598" y="909" style="fill:#444">85</text><text x="598" y="921" style="fill:#444">105</text><text x="598" y="933" style="fill:#444">115</text><text x="598" y="945" style="fill:#444">130</text><text x="598" y="957" style="fill:#444">155</text><text x="598" y="969" style="fill:#444">200</text><text x="598" y="981" style="fill:#444">300</text>
<text x="642" y="897" style="fill:#444">108.5 / 136.5</text><text x="642" y="909" style="fill:#444">133.5 / 161.5</text><text x="642" y="921" style="fill:#444">153.5 / 181.5</text><text x="642" y="933" style="fill:#444">163.5 / 191.5</text><text x="642" y="945" style="fill:#444">178.5 / 206.5</text><text x="642" y="957" style="fill:#444">203.5 / 231.5</text><text x="642" y="969" style="fill:#444">248.5 / 276.5</text><text x="642" y="981" style="fill:#444">348.5 / 376.5</text>
</g>
</g>
</svg>
</body></html>
